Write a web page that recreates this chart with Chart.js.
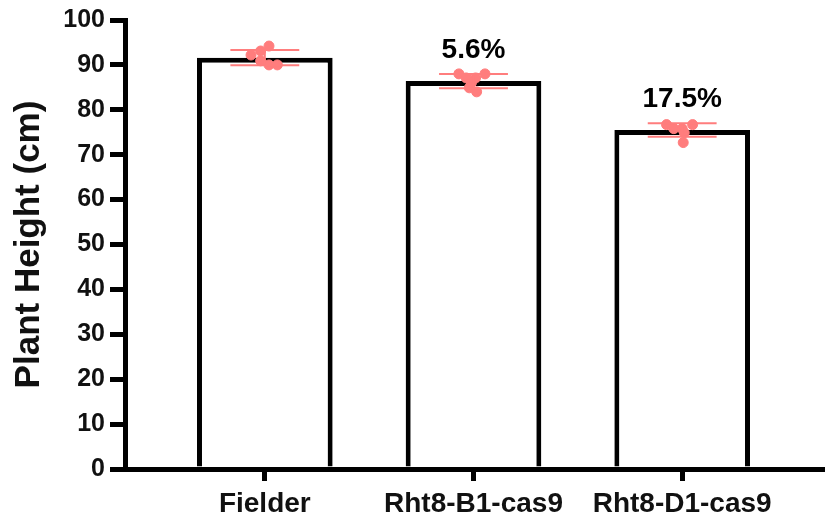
<!DOCTYPE html>
<html>
<head>
<meta charset="utf-8">
<script src="https://cdn.jsdelivr.net/npm/chart.js@4"></script>
<style>
    body { margin: 0; background: #fff; }
    #wrap { width: 828px; height: 527px; }
</style>
</head>
<body>
<div id="wrap"><canvas id="heightChart" width="828" height="527"></canvas></div>
<script>
// values
const categories = ['Fielder', 'Rht8-B1-cas9', 'Rht8-D1-cas9'];
const means = [91.6, 86.4, 75.5];
const sds = [1.7, 1.6, 1.5];
const reductionLabels = ['', '5.6%', '17.5%'];
const yTicks = [0, 10, 20, 30, 40, 50, 60, 70, 80, 90, 100];

// individual plants, per line
const fielderPts = [94.2, 93.1, 92.2, 90.9, 90.0, 90.0];
const fielderJitter = [0.02, -0.02, -0.066, -0.02, 0.02, 0.06];
const b1Pts = [88.0, 88.0, 87.1, 87.1, 86.0, 84.9, 84.0];
const b1Jitter = [-0.07, 0.055, -0.035, 0.01, -0.01, -0.02, 0.015];
const d1Pts = [76.7, 76.7, 75.8, 75.8, 74.9, 72.7];
const d1Jitter = [-0.075, 0.05, -0.04, 0.0, 0.01, 0.005];

const pointColor = 'rgb(255, 125, 125)';

const groups = [
    { pts: fielderPts, jitter: fielderJitter },
    { pts: b1Pts, jitter: b1Jitter },
    { pts: d1Pts, jitter: d1Jitter }
];
const scatterData = [];
groups.forEach((g, i) => {
    g.pts.forEach((v, k) => scatterData.push({ x: i + g.jitter[k], y: v }));
});

// error bars (mean +/- SD) and the percent labels
const errorBarPlugin = {
    id: 'errorBars',
    afterDatasetsDraw(chart) {
        const ctx = chart.ctx;
        const xs = chart.scales.x;
        const ys = chart.scales.y;
        ctx.save();
        ctx.strokeStyle = pointColor;
        ctx.lineWidth = 2;
        means.forEach((m, i) => {
            const xl = xs.getPixelForValue(i - 0.165);
            const xr = xs.getPixelForValue(i + 0.165);
            const xc = xs.getPixelForValue(i);
            const yTop = ys.getPixelForValue(m + sds[i]);
            const yBot = ys.getPixelForValue(m - sds[i]);
            ctx.beginPath();
            ctx.moveTo(xl, yTop); ctx.lineTo(xr, yTop);
            ctx.moveTo(xl, yBot); ctx.lineTo(xr, yBot);
            ctx.moveTo(xc, yTop); ctx.lineTo(xc, yBot);
            ctx.stroke();

            if (reductionLabels[i]) {
                ctx.fillStyle = '#000';
                ctx.font = 'bold 28px "Liberation Sans", Arial, sans-serif';
                ctx.textAlign = 'center';
                ctx.textBaseline = 'alphabetic';
                ctx.fillText(reductionLabels[i], xc, yTop - 16);
            }
        });
        ctx.restore();
    }
};

const ctx = document.getElementById('heightChart').getContext('2d');
new Chart(ctx, {
    type: 'bar',
    data: {
        datasets: [
            {
                type: 'scatter',
                data: scatterData,
                backgroundColor: pointColor,
                borderColor: pointColor,
                pointRadius: 5,
                order: 0
            },
            {
                type: 'bar',
                data: means.map((m, i) => ({ x: i, y: m })),
                backgroundColor: '#fff',
                borderColor: '#000',
                borderWidth: 5,
                categoryPercentage: 1,
                barPercentage: 0.65,
                order: 1
            }
        ]
    },
    options: {
        responsive: false,
        animation: false,
        layout: { padding: { top: 19, right: 2, left: 0, bottom: 0 } },
        plugins: {
            legend: { display: false },
            tooltip: { enabled: false }
        },
        scales: {
            x: {
                type: 'linear',
                offset: false,
                min: -0.67,
                max: 2.67,
                afterBuildTicks: (scale) => {
                    scale.ticks = categories.map((c, i) => ({ value: i }));
                },
                afterFit: (scale) => { scale.height = 58; },
                border: { display: true, color: '#000', width: 5 },
                grid: {
                    offset: false,
                    drawOnChartArea: false,
                    drawTicks: true,
                    tickLength: 12,
                    tickWidth: 5,
                    lineWidth: 5,
                    color: '#000',
                    tickColor: '#000'
                },
                ticks: {
                    autoSkip: false,
                    maxRotation: 0,
                    padding: 6,
                    color: '#111',
                    font: { family: '"Liberation Sans", Arial, sans-serif', size: 28, weight: 'bold' },
                    callback: (v) => categories[v] ?? ''
                }
            },
            y: {
                min: 0,
                max: 100,
                afterBuildTicks: (scale) => {
                    scale.ticks = yTicks.map(v => ({ value: v }));
                },
                afterFit: (scale) => { scale.width = 125; },
                border: { display: true, color: '#000', width: 5 },
                grid: {
                    drawOnChartArea: false,
                    drawTicks: true,
                    tickLength: 15,
                    tickWidth: 5,
                    lineWidth: 5,
                    color: '#000',
                    tickColor: '#000'
                },
                ticks: {
                    padding: 5,
                    color: '#111',
                    font: { family: '"Liberation Sans", Arial, sans-serif', size: 25, weight: 'bold' }
                },
                title: {
                    display: true,
                    text: 'Plant Height (cm)',
                    color: '#111',
                    padding: { top: 12, bottom: 0 },
                    font: { family: '"Liberation Sans", Arial, sans-serif', size: 35, weight: 'bold', lineHeight: 1 }
                }
            }
        }
    },
    plugins: [errorBarPlugin]
});
</script>
</body>
</html>
